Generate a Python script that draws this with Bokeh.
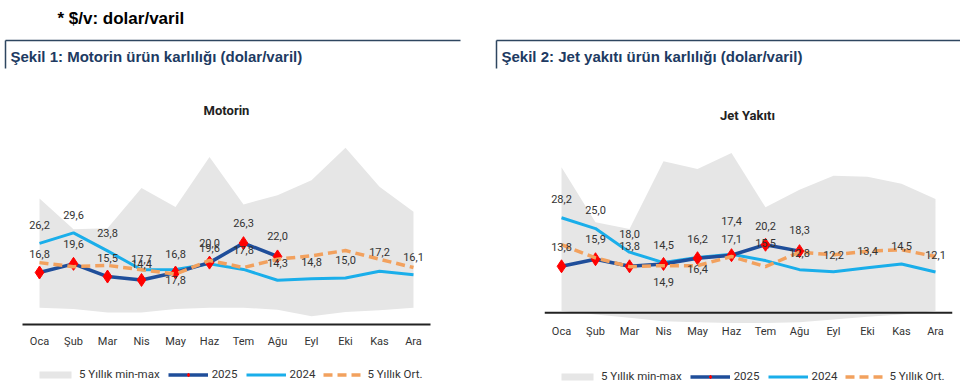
from bokeh.plotting import figure
from bokeh.models import Range1d, FactorRange, Span, Legend, LegendItem, ColumnDataSource
from bokeh.layouts import column, row
from bokeh.embed import file_html
from bokeh.resources import INLINE
from bokeh.core.properties import value

# ---------------- data ----------------
months = ["Oca", "Şub", "Mar", "Nis", "May", "Haz", "Tem", "Ağu", "Eyl", "Eki", "Kas", "Ara"]

motorin_2025 = [16.8, 19.6, 15.5, 14.4, 16.8, 20.0, 26.3, 22.0]
motorin_2024 = [26.2, 29.6, 23.8, 17.7, 17.8, 19.6, 17.8, 14.3, 14.8, 15.0, 17.2, 16.1]
motorin_avg5 = [20.0, 18.7, 19.1, 17.7, 16.3, 20.7, 18.4, 21.1, 22.2, 23.9, 21.1, 18.4]
motorin_max5 = [40.7, 30.8, 31.1, 44.1, 38.0, 54.1, 38.8, 41.8, 46.6, 57.1, 44.5, 36.4]
motorin_min5 = [5.4, 5.0, 3.9, 3.9, 5.0, 5.4, 5.4, 4.8, 2.7, 4.0, 4.6, 5.4]

jet_2025 = [13.8, 15.9, 13.8, 14.5, 16.2, 17.1, 20.2, 18.3]
jet_2024 = [28.2, 25.0, 18.0, 14.9, 16.4, 17.4, 15.5, 12.8, 12.2, 13.4, 14.5, 12.1]
jet_avg5 = [20.2, 16.3, 13.7, 14.0, 14.0, 16.7, 13.7, 18.0, 17.2, 18.3, 18.7, 16.7]
jet_max5 = [43.2, 26.9, 24.9, 45.0, 42.7, 47.4, 31.3, 36.5, 40.7, 40.4, 38.3, 33.8]
jet_min5 = [0.5, -0.5, -1.5, -2.5, -2.8, -3.0, -3.0, -2.8, -2.0, -1.2, -0.5, 0.5]

legend_labels = ["5 Yıllık min-max", "2025", "2024", "5 Yıllık Ort."]

# label placement (style): vertical pixel offsets of data labels
motorin_dy25 = [-19, -20, -19, -16, -19, -20, -20, -20]
motorin_dy24 = [-18, -18, -18, -11, 11, -16, -19, -17, -17, -18, -19, -18]
jet_dy25 = [-19, -20, -20, -19, -19, -16, -19, -21]
jet_dy24 = [-19, -19, -18, 19, 11, -33, -18, -17, -17, -17, -18, -17]

# ---------------- styles ----------------
BAND = "#E6E6E6"
C25 = "#1F4E9A"
C24 = "#1AAEEA"
CAVG = "#F2A15E"
RED = "#FF0000"
NUMFONT = "Roboto"
TXT = "#333333"


def fmt(v):
    return f"{v:.1f}".replace(".", ",")


def make_chart(v25, v24, avg, mx, mn, dy25, dy24, y0, y1, left, right,
               bottom, lab_standoff, zero_line):
    p = figure(width=480, height=243,
               x_range=FactorRange(*months, range_padding=0),
               y_range=Range1d(y0, y1),
               y_axis_type=None,
               output_backend="svg", toolbar_location=None,
               min_border_left=left, min_border_right=right,
               min_border_top=7, min_border_bottom=bottom)
    p.outline_line_color = None
    p.xgrid.visible = False

    p.varea(x=months, y1=mn, y2=mx, fill_color=BAND)
    p.line(months, v24, line_color=C24, line_width=3)
    p.line(months[:len(v25)], v25, line_color=C25, line_width=3.5)
    p.scatter(months[:len(v25)], v25, marker="diamond", size=13,
              fill_color=RED, line_color=RED)
    p.line(months, avg, line_color=CAVG, line_width=3.5, line_dash="9 5")

    if zero_line:
        p.add_layout(Span(location=0, dimension="width", line_color="#222222",
                          line_width=2))

    src = ColumnDataSource(dict(
        x=months[:len(v25)] + months,
        y=list(v25) + list(v24),
        t=[fmt(v) for v in v25] + [fmt(v) for v in v24],
        dy=list(dy25) + list(dy24),
    ))
    p.text(x="x", y="y", text="t", y_offset="dy", source=src,
           text_align="center", text_baseline="middle",
           text_font=value(NUMFONT), text_font_size="11px", text_color=TXT)

    ax = p.xaxis[0]
    ax.major_tick_in = 0
    ax.major_tick_out = 0
    ax.minor_tick_line_color = None
    ax.major_label_standoff = lab_standoff
    ax.major_label_text_font = NUMFONT
    ax.major_label_text_font_size = "11px"
    ax.major_label_text_color = TXT
    if zero_line:
        ax.axis_line_color = None
    else:
        ax.axis_line_color = "#222222"
        ax.axis_line_width = 2
    return p


def make_legend(leg_loc):
    # legend strip; proxy renderers sit outside the visible range (only their
    # styles are shown, in the legend)
    f = figure(width=480, height=25, x_range=Range1d(0, 1), y_range=Range1d(0, 1),
               x_axis_type=None, y_axis_type=None, output_backend="svg",
               toolbar_location=None, min_border=0)
    f.outline_line_color = None
    f.grid.visible = False
    proxy = ColumnDataSource(dict(x=[-3, -2], y=[-3, -3], y1=[-3, -3], y2=[-2, -2]))
    band = f.varea(x="x", y1="y1", y2="y2", source=proxy, fill_color=BAND)
    l25 = f.line("x", "y", source=proxy, line_color=C25, line_width=3.5)
    s25 = f.scatter("x", "y", source=proxy, marker="diamond", size=10,
                    fill_color=RED, line_color=RED)
    l24 = f.line("x", "y", source=proxy, line_color=C24, line_width=3)
    lav = f.line("x", "y", source=proxy, line_color=CAVG, line_width=3.5,
                 line_dash="9 5")
    legend = Legend(items=[
        LegendItem(label=legend_labels[0], renderers=[band]),
        LegendItem(label=legend_labels[1], renderers=[l25, s25]),
        LegendItem(label=legend_labels[2], renderers=[l24]),
        LegendItem(label=legend_labels[3], renderers=[lav]),
    ], orientation="horizontal", location=leg_loc,
        glyph_width=40, glyph_height=9, label_height=12, label_standoff=4,
        spacing=8, padding=0, margin=0,
        border_line_color=None, background_fill_alpha=0,
        label_text_font=NUMFONT, label_text_font_size="11.5px",
        label_text_color=TXT)
    f.add_layout(legend, "center")
    return f


# ---------------- header ----------------
HW, HH = 960, 123
head = figure(width=HW, height=HH, x_range=Range1d(0, HW), y_range=Range1d(HH, 0),
              x_axis_type=None, y_axis_type=None, output_backend="svg",
              toolbar_location=None, min_border=0)
head.outline_line_color = None
head.grid.visible = False

NAVY = "#203A62"
head.text(x=[57], y=[18], text=["* $/v: dolar/varil"], text_align="left",
          text_baseline="middle", text_font=value("Liberation Sans"),
          text_font_style="bold", text_font_size="17px", text_color="black")
head.segment(x0=[5, 5, 496, 496], y0=[40, 40, 40, 40], x1=[460, 5, 960, 496],
             y1=[40, 68, 40, 68], line_color="#2E4660", line_width=1.5)
head.text(x=[10, 501], y=[56, 56],
          text=["Şekil 1: Motorin ürün karlılığı (dolar/varil)",
                "Şekil 2: Jet yakıtı ürün karlılığı (dolar/varil)"],
          text_align="left", text_baseline="middle",
          text_font=value("Liberation Sans"), text_font_style="bold",
          text_font_size="15px", text_color=NAVY)
head.text(x=[226, 747], y=[110, 115], text=["Motorin", "Jet Yakıtı"],
          text_align="center", text_baseline="middle",
          text_font=value(NUMFONT), text_font_style="bold",
          text_font_size="13px", text_color="#222222")

# ---------------- charts ----------------
p1 = make_chart(motorin_2025, motorin_2024, motorin_avg5, motorin_max5, motorin_min5,
                motorin_dy25, motorin_dy24, 0, 62.7, 22, 50, 41, 10, False)
p2 = make_chart(jet_2025, jet_2024, jet_avg5, jet_max5, jet_min5,
                jet_dy25, jet_dy24, -3.47, 54.1, 64, 8, 42, 0, True)

f1 = make_legend((35, 10))
f2 = make_legend((77, 8))

layout = column(head, row(p1, p2, spacing=0), row(f1, f2, spacing=0), spacing=0)

open("out.html", "w").write(file_html(layout, INLINE))
